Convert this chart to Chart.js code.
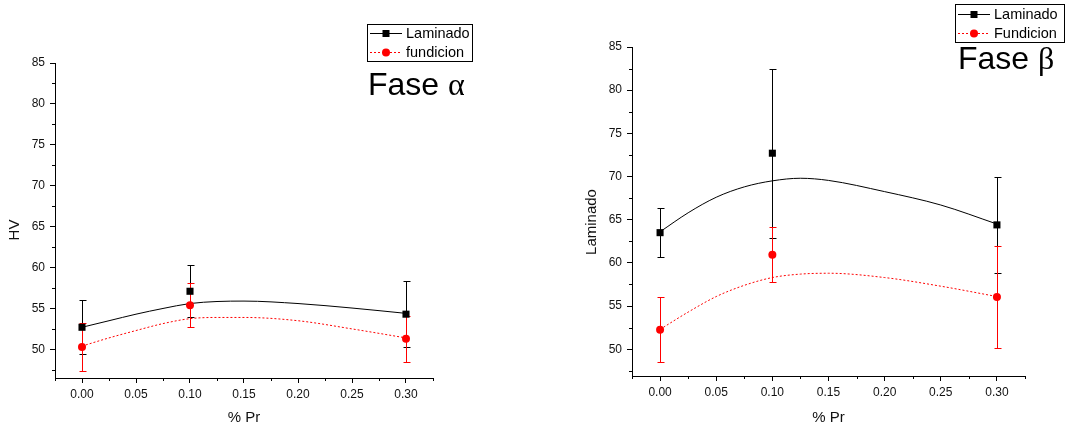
<!DOCTYPE html>
<html>
<head>
<meta charset="utf-8">
<script src="https://cdn.jsdelivr.net/npm/chart.js@4.4.1/dist/chart.umd.min.js"></script>
<style>
  html, body { margin: 0; padding: 0; background: #fff; }
  .panel { position: absolute; top: 0; width: 540px; height: 427px; }
</style>
</head>
<body>
<div class="panel" style="left:0"><canvas id="alphaChart" width="540" height="427"></canvas></div>
<div class="panel" style="left:545px"><canvas id="betaChart" width="540" height="427"></canvas></div>
<script>
// % Pr de cada muestra
var xValues = [0, 0.10, 0.30];
var xTicks = [0, 0.05, 0.10, 0.15, 0.20, 0.25, 0.30];
var xMinorTicks = [-0.025, 0.025, 0.075, 0.125, 0.175, 0.225, 0.275, 0.325];
var yTicks = [50, 55, 60, 65, 70, 75, 80, 85];
var yMinorTicks = [47.5, 52.5, 57.5, 62.5, 67.5, 72.5, 77.5, 82.5];

// Fase alfa (HV)
var alphaLaminado = [52.7, 57.1, 54.3];
var alphaLaminadoErr = [3.3, 3.2, 4.0];
var alphaFundicion = [50.3, 55.4, 51.3];
var alphaFundicionErr = [2.9, 2.7, 2.8];

// Fase beta
var betaLaminado = [63.5, 72.7, 64.4];
var betaLaminadoErr = [2.8, 9.8, 5.6];
var betaFundicion = [52.25, 60.95, 56.05];
var betaFundicionErr = [3.75, 3.2, 5.85];

// curvas de ajuste
var fitX = [0, 0.025, 0.05, 0.075, 0.10, 0.125, 0.15, 0.20, 0.25, 0.30];
var alphaLaminadoFit = [52.7, 53.5, 54.3, 55.0, 55.6, 55.85, 55.9, 55.6, 55.05, 54.4];
var alphaFundicionFit = [50.4, 51.4, 52.3, 53.15, 53.75, 53.9, 53.9, 53.5, 52.5, 51.4];
var betaLaminadoFit = [63.6, 65.8, 67.6, 68.8, 69.5, 69.8, 69.55, 68.25, 66.7, 64.5];
var betaFundicionFit = [52.3, 54.3, 56.1, 57.4, 58.3, 58.7, 58.8, 58.3, 57.3, 56.1];

var FONT = '"Liberation Sans", Arial, sans-serif';

function pts(xs, ys) {
  return xs.map(function (x, i) { return { x: x, y: ys[i] }; });
}

// barras de error, ticks menores, leyenda y textos
var extrasPlugin = {
  id: 'extras',
  beforeDatasetsDraw: function (chart) {
    var ctx = chart.ctx, xs = chart.scales.x, ys = chart.scales.y;
    ctx.save();
    ctx.lineWidth = 1;
    chart.data.datasets.slice().reverse().forEach(function (ds) {
      if (!ds.errors) return;
      ctx.strokeStyle = ds.borderColor;
      ds.data.forEach(function (p, i) {
        var px = Math.round(xs.getPixelForValue(p.x)) + 0.5;
        var top = Math.round(ys.getPixelForValue(p.y + ds.errors[i])) + 0.5;
        var bot = Math.round(ys.getPixelForValue(p.y - ds.errors[i])) + 0.5;
        ctx.beginPath();
        ctx.moveTo(px, top); ctx.lineTo(px, bot);
        ctx.moveTo(px - 3, top); ctx.lineTo(px + 4, top);
        ctx.moveTo(px - 3, bot); ctx.lineTo(px + 4, bot);
        ctx.stroke();
      });
    });
    ctx.restore();
  },
  afterDraw: function (chart) {
    var ctx = chart.ctx, xs = chart.scales.x, ys = chart.scales.y;
    var o = chart.options.plugins.extras;
    ctx.save();
    ctx.strokeStyle = '#000';
    ctx.lineWidth = 1;
    ctx.beginPath();
    xMinorTicks.forEach(function (v) {
      var px = Math.round(xs.getPixelForValue(v)) + 0.5;
      ctx.moveTo(px, xs.top); ctx.lineTo(px, xs.top + 3);
    });
    yMinorTicks.forEach(function (v) {
      if (v < ys.min) return;
      var py = Math.round(ys.getPixelForValue(v)) + 0.5;
      ctx.moveTo(ys.right, py); ctx.lineTo(ys.right - 3, py);
    });
    ctx.stroke();

    // título eje y
    ctx.fillStyle = '#111';
    ctx.font = '15px ' + FONT;
    ctx.textAlign = 'center';
    ctx.textBaseline = 'middle';
    ctx.save();
    ctx.translate(o.yTitleX, o.yTitleY);
    ctx.rotate(-Math.PI / 2);
    ctx.fillText(o.yTitle, 0, 0);
    ctx.restore();

    // leyenda
    var L = o.legend;
    ctx.strokeRect(L.x + 0.5, L.y + 0.5, L.w, L.h);
    ctx.font = '14.5px ' + FONT;
    ctx.textAlign = 'left';
    var series = [chart.data.datasets[1], chart.data.datasets[0]];
    series.forEach(function (ds, i) {
      var y = L.y + L.row0 + i * L.rowGap;
      ctx.strokeStyle = ds.borderColor;
      ctx.setLineDash(ds.legendDash);
      ctx.beginPath();
      ctx.moveTo(L.x + 3, y); ctx.lineTo(L.x + 35, y);
      ctx.stroke();
      ctx.setLineDash([]);
      ctx.fillStyle = ds.backgroundColor;
      ctx.beginPath();
      if (ds.pointStyle === 'rect') ctx.rect(L.x + 15.5, y - 3.5, 7, 7);
      else ctx.arc(L.x + 19, y, 4, 0, Math.PI * 2);
      ctx.fill();
      ctx.fillStyle = '#000';
      ctx.fillText(ds.label, L.x + 39, y);
    });

    // rótulo de fase
    ctx.textBaseline = 'alphabetic';
    ctx.font = '32px ' + FONT;
    ctx.fillText(o.phase, o.phaseX, o.phaseY);
    var w = ctx.measureText(o.phase + ' ').width;
    ctx.font = '32px "Liberation Serif", serif';
    ctx.fillText(o.symbol, o.phaseX + w, o.phaseY);
    ctx.restore();
  }
};

function makeChart(id, opts) {
  var W = 540, H = 427;
  return new Chart(document.getElementById(id), {
    type: 'scatter',
    data: {
      datasets: [
        {
          label: opts.names[1], data: pts(xValues, opts.fund), errors: opts.fundErr,
          pointStyle: 'circle', pointRadius: 4, pointBorderWidth: 0,
          backgroundColor: '#ff0000', borderColor: '#ff0000', legendDash: [2, 2]
        },
        {
          label: opts.names[0], data: pts(xValues, opts.lam), errors: opts.lamErr,
          pointStyle: 'rect', pointRadius: 5, pointBorderWidth: 0,
          backgroundColor: '#000', borderColor: '#000', legendDash: []
        },
        {
          label: 'fitLam', data: pts(fitX, opts.lamFit), showLine: true, pointRadius: 0,
          borderColor: '#000', borderWidth: 1, cubicInterpolationMode: 'monotone'
        },
        {
          label: 'fitFund', data: pts(fitX, opts.fundFit), showLine: true, pointRadius: 0,
          borderColor: '#ff0000', borderWidth: 1, borderDash: [2, 2], cubicInterpolationMode: 'monotone'
        }
      ]
    },
    options: {
      responsive: false,
      animation: false,
      layout: { padding: { top: opts.area.top, right: W - opts.area.right, bottom: 0, left: 0 } },
      plugins: {
        legend: { display: false },
        tooltip: { enabled: false },
        extras: opts.extras
      },
      scales: {
        x: {
          type: 'linear', min: -0.025, max: 0.325,
          afterBuildTicks: function (s) { s.ticks = xTicks.map(function (v) { return { value: v }; }); },
          afterFit: function (s) { s.height = H - opts.area.bottom; },
          border: { color: '#000', width: 1 },
          grid: { drawOnChartArea: false, tickLength: 5, tickColor: '#000' },
          ticks: { color: '#111', font: { family: FONT, size: 12 }, padding: 4,
            maxRotation: 0, callback: function (v) { return v.toFixed(2); } },
          title: { display: true, text: '% Pr', color: '#111', font: { family: FONT, size: 15 }, padding: { top: 2, bottom: 0 } }
        },
        y: {
          type: 'linear', min: opts.yMin, max: 85,
          afterBuildTicks: function (s) { s.ticks = yTicks.map(function (v) { return { value: v }; }); },
          afterFit: function (s) { s.width = opts.area.left; },
          border: { color: '#000', width: 1 },
          grid: { drawOnChartArea: false, tickLength: 5, tickColor: '#000' },
          ticks: { color: '#111', font: { family: FONT, size: 12 }, padding: 5 }
        }
      }
    },
    plugins: [extrasPlugin]
  });
}

makeChart('alphaChart', {
  names: ['Laminado', 'fundicion'],
  lam: alphaLaminado, lamErr: alphaLaminadoErr,
  fund: alphaFundicion, fundErr: alphaFundicionErr,
  lamFit: alphaLaminadoFit, fundFit: alphaFundicionFit,
  yMin: 46.5,
  area: { left: 55, right: 433, top: 63, bottom: 378 },
  extras: {
    yTitle: 'HV', yTitleX: 15, yTitleY: 230,
    legend: { x: 367, y: 24, w: 105, h: 37, row0: 9.5, rowGap: 19 },
    phase: 'Fase', symbol: 'α', phaseX: 368, phaseY: 95
  }
});

makeChart('betaChart', {
  names: ['Laminado', 'Fundicion'],
  lam: betaLaminado, lamErr: betaLaminadoErr,
  fund: betaFundicion, fundErr: betaFundicionErr,
  lamFit: betaLaminadoFit, fundFit: betaFundicionFit,
  yMin: 46.9,
  area: { left: 87, right: 480, top: 47, bottom: 376 },
  extras: {
    yTitle: 'Laminado', yTitleX: 47, yTitleY: 222,
    legend: { x: 410, y: 4, w: 109, h: 38, row0: 10.5, rowGap: 19 },
    phase: 'Fase', symbol: 'β', phaseX: 413, phaseY: 69
  }
});
</script>
</body>
</html>
